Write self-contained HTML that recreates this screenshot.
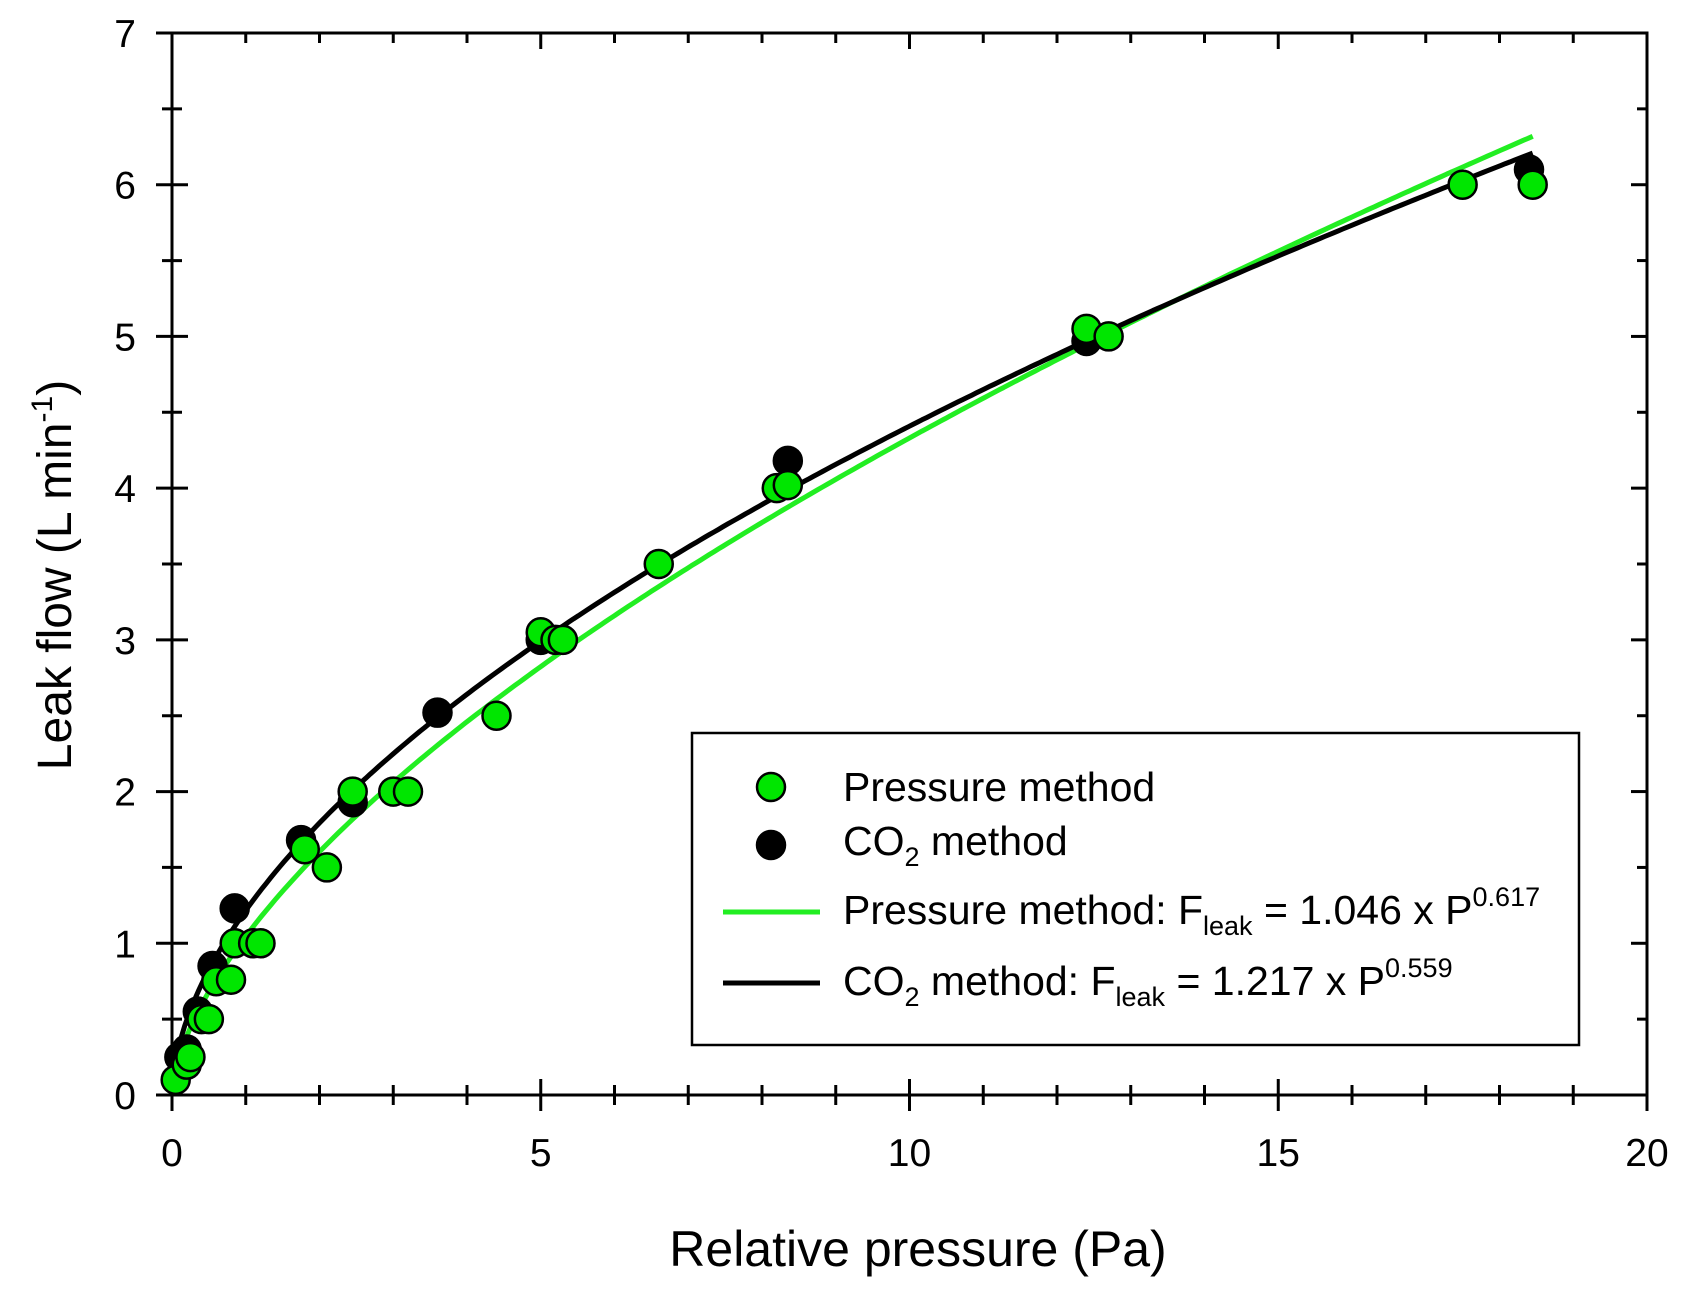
<!DOCTYPE html>
<html><head><meta charset="utf-8"><style>
html,body{margin:0;padding:0;background:#fff}
svg{display:block;font-family:"Liberation Sans",Arial,sans-serif}
</style></head><body>
<svg id="chart" width="1687" height="1293" viewBox="0 0 1687 1293" xmlns="http://www.w3.org/2000/svg">
<g id="axes"></g>
<g id="curves"></g>
<g id="points"></g>
<text x="918" y="1266" font-size="50" text-anchor="middle">Relative pressure (Pa)</text>
<text transform="translate(71,575) rotate(-90)" font-size="48" text-anchor="middle">Leak flow (L min<tspan font-size="30" dy="-19">-1</tspan><tspan dy="19">)</tspan></text>
<g>
<rect x="692" y="733" width="887" height="312" fill="#fff" stroke="#000" stroke-width="2.5"/>
<circle cx="771" cy="787" r="14" fill="#00e600" stroke="#000" stroke-width="2.5"/>
<text x="843" y="801" font-size="41">Pressure method</text>
<circle cx="771" cy="845" r="14" fill="#000" stroke="#000" stroke-width="2.5"/>
<text x="843" y="855" font-size="41">CO<tspan font-size="27" dy="11">2</tspan><tspan dy="-11"> method</tspan></text>
<line x1="723" y1="912" x2="820" y2="912" stroke="#22ee22" stroke-width="5"/>
<text x="843" y="924" font-size="41">Pressure method: F<tspan font-size="27" dy="11">leak</tspan><tspan dy="-11"> = 1.046 x P</tspan><tspan font-size="27" dy="-18">0.617</tspan></text>
<line x1="723" y1="983" x2="820" y2="983" stroke="#000" stroke-width="5"/>
<text x="843" y="995" font-size="41">CO<tspan font-size="27" dy="11">2</tspan><tspan dy="-11"> method: F</tspan><tspan font-size="27" dy="11">leak</tspan><tspan dy="-11"> = 1.217 x P</tspan><tspan font-size="27" dy="-18">0.559</tspan></text>
</g>
</svg>
<script>
const pressureP=[0.05,0.2,0.25,0.4,0.5,0.6,0.8,0.85,1.1,1.2,1.8,2.1,2.45,3.0,3.2,4.4,5.0,5.2,5.3,6.6,8.2,8.35,12.4,12.7,17.5,18.45];
const pressureF=[0.1,0.2,0.25,0.5,0.5,0.75,0.76,1.0,1.0,1.0,1.62,1.5,2.0,2.0,2.0,2.5,3.05,3.0,3.0,3.5,4.0,4.02,5.05,5.0,6.0,6.0];
const co2P=[0.1,0.2,0.35,0.55,0.85,1.75,2.45,3.6,5.0,8.35,12.4,18.4];
const co2F=[0.25,0.3,0.55,0.85,1.23,1.68,1.93,2.52,3.0,4.18,4.97,6.1];
const fitPressure=[1.046,0.617];
const fitCo2=[1.217,0.559];
const xTicks=[0,5,10,15,20];
const yTicks=[0,1,2,3,4,5,6,7];
const L=172,R=1647,T=33,B=1095;
const sx=v=>L+(v-0)/(20-0)*(R-L);
const sy=v=>B-(v-0)/(7-0)*(B-T);
const NS="http://www.w3.org/2000/svg";
function mk(tag,attrs,parent){const e=document.createElementNS(NS,tag);for(const k in attrs)e.setAttribute(k,attrs[k]);parent.appendChild(e);return e;}
const axes=document.getElementById('axes');
const frame=mk('rect',{x:L,y:T,width:R-L,height:B-T,fill:'none',stroke:'#000','stroke-width':3},axes);


for(let v=0;v<=20;v+=1){
  const maj=v%5===0,len=maj?16:10,x=sx(v);
  const t1=mk('line',{x1:x,y1:B-len,x2:x,y2:B+len,stroke:'#000','stroke-width':3},axes);
  
  
  const t2=mk('line',{x1:x,y1:T,x2:x,y2:T+len,stroke:'#000','stroke-width':3},axes);
  
  
}
for(let v=0;v<=7.001;v+=0.5){
  const maj=Math.abs(v-Math.round(v))<1e-6,len=maj?16:10,y=sy(v);
  const t1=mk('line',{x1:L-len,y1:y,x2:L+len,y2:y,stroke:'#000','stroke-width':3},axes);
  
  
  const t2=mk('line',{x1:R-len,y1:y,x2:R,y2:y,stroke:'#000','stroke-width':3},axes);
  
  
}
xTicks.forEach(v=>{const t=mk('text',{x:sx(v),y:1166,'font-size':39,'text-anchor':'middle'},axes);t.textContent=v;
  
  });
yTicks.forEach(v=>{const t=mk('text',{x:136,y:sy(v)+14,'font-size':39,'text-anchor':'end'},axes);t.textContent=v;
  
  });
const curves=document.getElementById('curves');
function curve(fit,color,name){
  let d='';for(let i=0;i<=300;i++){const p=0.05+(18.45-0.05)*i/300;const f=fit[0]*Math.pow(p,fit[1]);d+=(i?'L':'M')+sx(p).toFixed(1)+','+sy(f).toFixed(1);}
  const e=mk('path',{d:d,fill:'none',stroke:color,'stroke-width':5,'stroke-linejoin':'round'},curves);
  
  
}
curve(fitPressure,'#22ee22','pressure-fit-curve');
curve(fitCo2,'#000','co2-fit-curve');
const pts=document.getElementById('points');
co2P.forEach((p,i)=>{const c=mk('circle',{cx:sx(p),cy:sy(co2F[i]),r:14,fill:'#000',stroke:'#000','stroke-width':2.5},pts);
  
  });
pressureP.forEach((p,i)=>{const c=mk('circle',{cx:sx(p),cy:sy(pressureF[i]),r:14,fill:'#00e600',stroke:'#000','stroke-width':2.5},pts);
  
  });
</script>
</body></html>
